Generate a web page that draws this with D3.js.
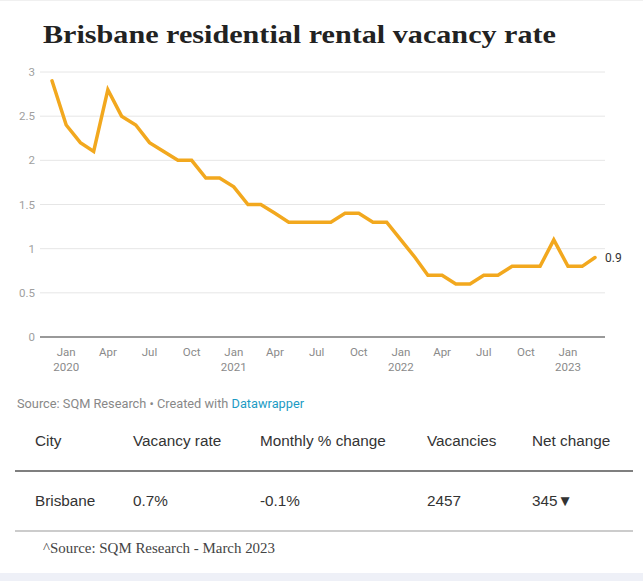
<!DOCTYPE html>
<html>
<head>
<meta charset="utf-8">
<script src="https://cdn.jsdelivr.net/npm/d3@7"></script>
<style>
  html, body { margin: 0; padding: 0; background: #ffffff; }
  svg { display: block; }
</style>
</head>
<body>
<script>
// ---- data ----
const months = [
  "2019-12","2020-01","2020-02","2020-03","2020-04","2020-05","2020-06","2020-07","2020-08","2020-09","2020-10","2020-11","2020-12",
  "2021-01","2021-02","2021-03","2021-04","2021-05","2021-06","2021-07","2021-08","2021-09","2021-10","2021-11","2021-12",
  "2022-01","2022-02","2022-03","2022-04","2022-05","2022-06","2022-07","2022-08","2022-09","2022-10","2022-11","2022-12",
  "2023-01","2023-02","2023-03"
];
const vacancyRate = [
  2.9, 2.4, 2.2, 2.1, 2.8, 2.5, 2.4, 2.2, 2.1, 2.0, 2.0, 1.8, 1.8,
  1.7, 1.5, 1.5, 1.4, 1.3, 1.3, 1.3, 1.3, 1.4, 1.4, 1.3, 1.3,
  1.1, 0.9, 0.7, 0.7, 0.6, 0.6, 0.7, 0.7, 0.8, 0.8, 0.8, 1.1,
  0.8, 0.8, 0.9
];
const yTicks = [0, 0.5, 1, 1.5, 2, 2.5, 3];
const xTickMonths = ["2020-01","2020-04","2020-07","2020-10","2021-01","2021-04","2021-07","2021-10","2022-01","2022-04","2022-07","2022-10","2023-01"];
const tableHeaders = ["City", "Vacancy rate", "Monthly % change", "Vacancies", "Net change"];
const tableRow = ["Brisbane", "0.7%", "-0.1%", "2457", "345\u25BC"];
const titleText = "Brisbane residential rental vacancy rate";
const footnote = "^Source: SQM Research - March 2023";

// ---- setup ----
const W = 643, H = 581;
const svg = d3.select("body").append("svg").attr("width", W).attr("height", H);
svg.append("rect").attr("width", W).attr("height", H).attr("fill", "#fff");
// bottom page band
svg.append("rect").attr("x", 0).attr("y", 573).attr("width", W).attr("height", 8).attr("fill", "#eef0f7");
svg.append("line").attr("x1", 0).attr("x2", W).attr("y1", 0.5).attr("y2", 0.5).attr("stroke", "#f0f0f0");

const sans = "Roboto, 'Liberation Sans', Arial, sans-serif";

svg.append("text")
  .attr("x", 43).attr("y", 43)
  .attr("font-family", "'Liberation Serif', 'DejaVu Serif', serif")
  .attr("font-weight", "bold").attr("font-size", 26)
  .attr("fill", "#222")
  .attr("textLength", 513).attr("lengthAdjust", "spacingAndGlyphs")
  .text(titleText);

const parse = d3.timeParse("%Y-%m");
const data = months.map((m, i) => ({ date: parse(m), value: vacancyRate[i] }));

const plotLeft = 40, plotRight = 605;
const x = d3.scaleTime()
  .domain([parse("2019-12"), parse("2023-03")])
  .range([52, 595]);
const y = d3.scaleLinear().domain([0, 3]).range([337, 72]);

// gridlines
const yAxis = svg.append("g");
yAxis.selectAll("line.grid").data(yTicks.filter(d => d !== 0)).enter().append("line")
  .attr("x1", plotLeft).attr("x2", plotRight)
  .attr("y1", d => y(d)).attr("y2", d => y(d))
  .attr("stroke", "#e6e6e6").attr("stroke-width", 1);
yAxis.selectAll("text").data(yTicks).enter().append("text")
  .attr("x", 35).attr("y", d => y(d) + 4)
  .attr("text-anchor", "end")
  .attr("font-family", sans).attr("font-size", 11.5)
  .attr("fill", "#a0a0a0")
  .text(d => d3.format("")(d));

// baseline
svg.append("line")
  .attr("x1", plotLeft).attr("x2", plotRight)
  .attr("y1", y(0)).attr("y2", y(0))
  .attr("stroke", "#777").attr("stroke-width", 1.5);

// x ticks
const fmtMon = d3.timeFormat("%b");
const fmtYr = d3.timeFormat("%Y");
const xg = svg.append("g");
xTickMonths.forEach(m => {
  const d = parse(m);
  const t = xg.append("text")
    .attr("x", x(d)).attr("y", 356)
    .attr("text-anchor", "middle")
    .attr("font-family", sans).attr("font-size", 11.5)
    .attr("fill", "#8a8a8a");
  t.append("tspan").attr("x", x(d)).text(fmtMon(d));
  if (d.getMonth() === 0) {
    t.append("tspan").attr("x", x(d)).attr("dy", 15).text(fmtYr(d));
  }
});

// line
const line = d3.line().x(d => x(d.date)).y(d => y(d.value));
svg.append("path").datum(data)
  .attr("d", line)
  .attr("fill", "none")
  .attr("stroke", "#f2a81e")
  .attr("stroke-width", 3.5)
  .attr("stroke-linejoin", "miter")
  .attr("stroke-linecap", "round");

const last = data[data.length - 1];
svg.append("text")
  .attr("x", x(last.date) + 10).attr("y", y(last.value) + 4)
  .attr("font-family", sans).attr("font-size", 12)
  .attr("fill", "#333")
  .text(d3.format(".1f")(last.value));

// source line
const src = svg.append("text")
  .attr("x", 17).attr("y", 408)
  .attr("font-family", sans).attr("font-size", 12.5)
  .attr("fill", "#888")
  .attr("textLength", 287).attr("lengthAdjust", "spacingAndGlyphs");
src.append("tspan").text("Source: SQM Research \u2022 Created with ");
src.append("tspan").attr("fill", "#1d9bc4").text("Datawrapper");

// table
const colX = [35, 133, 260, 427, 532];
const tsans = "'Liberation Sans', Arial, sans-serif";
const th = svg.append("g");
tableHeaders.forEach((h, i) => {
  th.append("text").attr("x", colX[i]).attr("y", 446)
    .attr("font-family", tsans).attr("font-size", 15.3)
    .attr("fill", "#333").text(h);
});
svg.append("line").attr("x1", 15).attr("x2", 633).attr("y1", 471).attr("y2", 471)
  .attr("stroke", "#555").attr("stroke-width", 1.3);
tableRow.forEach((v, i) => {
  th.append("text").attr("x", colX[i]).attr("y", 506)
    .attr("font-family", tsans).attr("font-size", 15.3)
    .attr("fill", "#333").text(v);
});
svg.append("line").attr("x1", 15).attr("x2", 633).attr("y1", 531).attr("y2", 531)
  .attr("stroke", "#999").attr("stroke-width", 1);

svg.append("text").attr("x", 43).attr("y", 553)
  .attr("font-family", "'Liberation Serif', 'DejaVu Serif', serif")
  .attr("font-size", 15).attr("fill", "#444")
  .attr("textLength", 232).attr("lengthAdjust", "spacingAndGlyphs")
  .text(footnote);
</script>
</body>
</html>
